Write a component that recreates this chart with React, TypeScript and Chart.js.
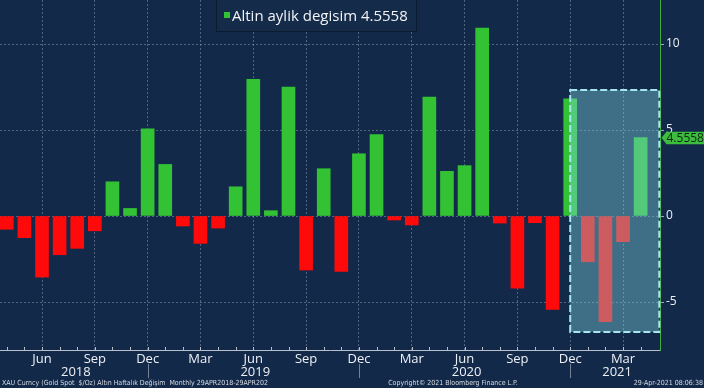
import { useEffect, useRef } from "react";
import { Chart, registerables } from "chart.js";

Chart.register(...registerables);

// ---- data ----
const MONTHS: string[] = [
  "2018-04", "2018-05", "2018-06", "2018-07", "2018-08", "2018-09", "2018-10", "2018-11", "2018-12",
  "2019-01", "2019-02", "2019-03", "2019-04", "2019-05", "2019-06", "2019-07", "2019-08", "2019-09",
  "2019-10", "2019-11", "2019-12", "2020-01", "2020-02", "2020-03", "2020-04", "2020-05", "2020-06",
  "2020-07", "2020-08", "2020-09", "2020-10", "2020-11", "2020-12", "2021-01", "2021-02", "2021-03",
  "2021-04",
];
const CHANGE_PCT: number[] = [
  -0.77, -1.26, -3.55, -2.25, -1.88, -0.86, 1.99, 0.44, 5.07,
  3.0, -0.58, -1.59, -0.7, 1.7, 7.95, 0.31, 7.5, -3.14,
  2.75, -3.22, 3.62, 4.73, -0.23, -0.52, 6.92, 2.6, 2.93,
  10.93, -0.41, -4.19, -0.39, -5.43, 6.82, -2.66, -6.14, -1.49,
  4.5558,
];
const X_TICK_MONTHS: string[] = [
  "2018-06", "2018-09", "2018-12", "2019-03", "2019-06", "2019-09",
  "2019-12", "2020-03", "2020-06", "2020-09", "2020-12", "2021-03",
];
const X_TICK_LABELS: string[] = ["Jun", "Sep", "Dec", "Mar", "Jun", "Sep", "Dec", "Mar", "Jun", "Sep", "Dec", "Mar"];
const YEAR_LABELS: string[] = ["2018", "2019", "2020", "2021"];
const YEAR_BREAKS: string[] = ["2018-12", "2019-12", "2020-12"];
const Y_TICKS: number[] = [-5, 0, 5, 10];
const X_RANGE: number[] = [-0.386, 37.1];
const Y_RANGE: number[] = [-7.79, 12.56];
const HIGHLIGHT_X: number[] = [32, 37.06];
const HIGHLIGHT_Y: number[] = [-6.74, 7.33];
const LEGEND_LABEL = "Altin aylik degisim";
const LAST_VALUE = "4.5558";
const FOOTER_LEFT = "XAU Curncy (Gold Spot  $/Oz) Altın Haftalık Değişim  Monthly 29APR2018-29APR202";
const FOOTER_MID = "Copyright© 2021 Bloomberg Finance L.P.";
const FOOTER_RIGHT = "29-Apr-2021 08:06:38";

// ---- styles ----
const BG = "#13294a";
const GREEN = "#33c233";
const RED = "#ff0a0a";
const GRID = "rgba(160,172,190,0.45)";
const FONT = "'Open Sans', 'DejaVu Sans', sans-serif";

const tickIdx = X_TICK_MONTHS.map((m) => MONTHS.indexOf(m));

const noPad = (s: any) => {
  s.paddingTop = 0;
  s.paddingBottom = 0;
  s.paddingLeft = 0;
  s.paddingRight = 0;
};

const decor = {
  id: "decor",
  beforeDraw(chart: any) {
    const { ctx, width, height } = chart;
    ctx.save();
    ctx.fillStyle = BG;
    ctx.fillRect(0, 0, width, height);
    ctx.restore();
  },
  afterDatasetsDraw(chart: any) {
    const { ctx, scales } = chart;
    const x = scales.x, y = scales.y;
    const x1 = x.getPixelForValue(HIGHLIGHT_X[0]);
    const x2 = x.getPixelForValue(HIGHLIGHT_X[1]);
    const y1 = y.getPixelForValue(HIGHLIGHT_Y[1]);
    const y2 = y.getPixelForValue(HIGHLIGHT_Y[0]);
    ctx.save();
    ctx.fillStyle = "rgba(130,215,228,0.40)";
    ctx.fillRect(x1, y1, x2 - x1, y2 - y1);
    ctx.strokeStyle = "#a6e6ef";
    ctx.lineWidth = 2;
    ctx.setLineDash([7, 3]);
    ctx.strokeRect(x1, y1, x2 - x1, y2 - y1);
    ctx.restore();
  },
  afterDraw(chart: any) {
    const { ctx, scales, chartArea } = chart;
    const x = scales.x, y = scales.y;
    ctx.save();
    // monthly minor ticks
    ctx.strokeStyle = "#b9c0ca";
    ctx.lineWidth = 1;
    MONTHS.forEach((_, i) => {
      const px = Math.round(x.getPixelForValue(i)) + 0.5;
      ctx.beginPath();
      ctx.moveTo(px, chartArea.bottom);
      ctx.lineTo(px, chartArea.bottom - 3);
      ctx.stroke();
    });
    // year separators and labels
    const breaks = YEAR_BREAKS.map((m) => x.getPixelForValue(MONTHS.indexOf(m)));
    ctx.strokeStyle = "rgba(185,192,202,0.6)";
    breaks.forEach((b) => {
      const px = Math.round(b) + 0.5;
      ctx.beginPath();
      ctx.moveTo(px, chartArea.bottom + 14);
      ctx.lineTo(px, chartArea.bottom + 28);
      ctx.stroke();
    });
    const edges = [chartArea.left, ...breaks, chartArea.right];
    ctx.fillStyle = "#eef1f5";
    ctx.font = `13px ${FONT}`;
    ctx.textAlign = "center";
    ctx.textBaseline = "middle";
    YEAR_LABELS.forEach((lab, i) => {
      ctx.fillText(lab, (edges[i] + edges[i + 1]) / 2 + 2, chartArea.bottom + 22);
    });
    // footer
    ctx.fillStyle = "#d6dbe2";
    ctx.font = `7px 'DejaVu Sans Condensed', 'DejaVu Sans', sans-serif`;
    ctx.textBaseline = "middle";
    ctx.textAlign = "left";
    ctx.fillText(FOOTER_LEFT, 2, 383);
    ctx.textAlign = "center";
    ctx.fillText(FOOTER_MID, 453, 383);
    ctx.textAlign = "right";
    ctx.fillText(FOOTER_RIGHT, 703, 383);
    // legend box
    ctx.fillStyle = "#142b49";
    ctx.fillRect(216, -1, 201, 32.5);
    ctx.strokeStyle = "#0b1c31";
    ctx.lineWidth = 1;
    ctx.strokeRect(216.5, -0.5, 200, 32);
    ctx.fillStyle = GREEN;
    ctx.fillRect(224, 12, 6, 6);
    ctx.fillStyle = "#f2f4f7";
    ctx.font = `15px ${FONT}`;
    ctx.textAlign = "left";
    ctx.textBaseline = "middle";
    ctx.fillText(`${LEGEND_LABEL} ${LAST_VALUE}`, 232, 16.5);
    // last value tag
    const ty = y.getPixelForValue(CHANGE_PCT[CHANGE_PCT.length - 1]);
    const tx = chartArea.right + 1.5;
    ctx.fillStyle = "#3dbd3d";
    ctx.beginPath();
    ctx.moveTo(tx, ty);
    ctx.lineTo(tx + 5, ty - 6);
    ctx.lineTo(705, ty - 6);
    ctx.lineTo(705, ty + 6.5);
    ctx.lineTo(tx + 5, ty + 6.5);
    ctx.closePath();
    ctx.fill();
    ctx.fillStyle = "#0d2414";
    ctx.font = `12px ${FONT}`;
    ctx.textAlign = "left";
    ctx.textBaseline = "middle";
    ctx.fillText(LAST_VALUE, tx + 5, ty + 0.5);
    ctx.restore();
  },
};

export default function App() {
  const ref = useRef<HTMLCanvasElement | null>(null);
  useEffect(() => {
    document.body.style.margin = "0";
    const canvas = ref.current;
    if (!canvas) return;
    const chart = new Chart(canvas, {
      type: "bar",
      data: {
        datasets: [
          {
            label: LEGEND_LABEL,
            data: CHANGE_PCT.map((v, i) => ({ x: i, y: v })),
            backgroundColor: CHANGE_PCT.map((v) => (v >= 0 ? GREEN : RED)),
            borderWidth: 0,
            barThickness: 13,
          },
        ],
      },
      options: {
        animation: false,
        responsive: false,
        layout: { padding: 0 },
        plugins: { legend: { display: false }, tooltip: { enabled: false } },
        scales: {
          x: {
            type: "linear",
            offset: false,
            min: X_RANGE[0],
            max: X_RANGE[1],
            afterBuildTicks: (s: any) => {
              s.ticks = tickIdx.map((v) => ({ value: v }));
            },
            afterFit: (s: any) => {
              s.height = 38;
              noPad(s);
            },
            ticks: {
              autoSkip: false,
              maxRotation: 0,
              color: "#eef1f5",
              padding: 1,
              font: { family: FONT, size: 13 },
              callback: (v: any) => X_TICK_LABELS[tickIdx.indexOf(Number(v))] ?? "",
            },
            grid: { color: GRID, drawTicks: false, lineWidth: 1, offset: false },
            border: { color: "#b9c0ca", dash: [2, 2] },
          },
          y: {
            position: "right",
            min: Y_RANGE[0],
            max: Y_RANGE[1],
            afterBuildTicks: (s: any) => {
              s.ticks = Y_TICKS.map((v) => ({ value: v }));
            },
            afterFit: (s: any) => {
              s.width = 44;
              noPad(s);
            },
            ticks: {
              color: "#eef1f5",
              padding: 2,
              font: { family: FONT, size: 12 },
              callback: (v: any) => String(v),
            },
            grid: { color: GRID, tickColor: "#a0a8b2", tickLength: 4, drawTicks: true },
            border: { color: "#3fae3f", dash: [2, 2] },
          },
        },
      },
      plugins: [decor],
    } as any);
    return () => chart.destroy();
  }, []);
  return (
    <div style={{ width: 704, height: 388 }}>
      <canvas ref={ref} width={704} height={388} style={{ display: "block" }} />
    </div>
  );
}
